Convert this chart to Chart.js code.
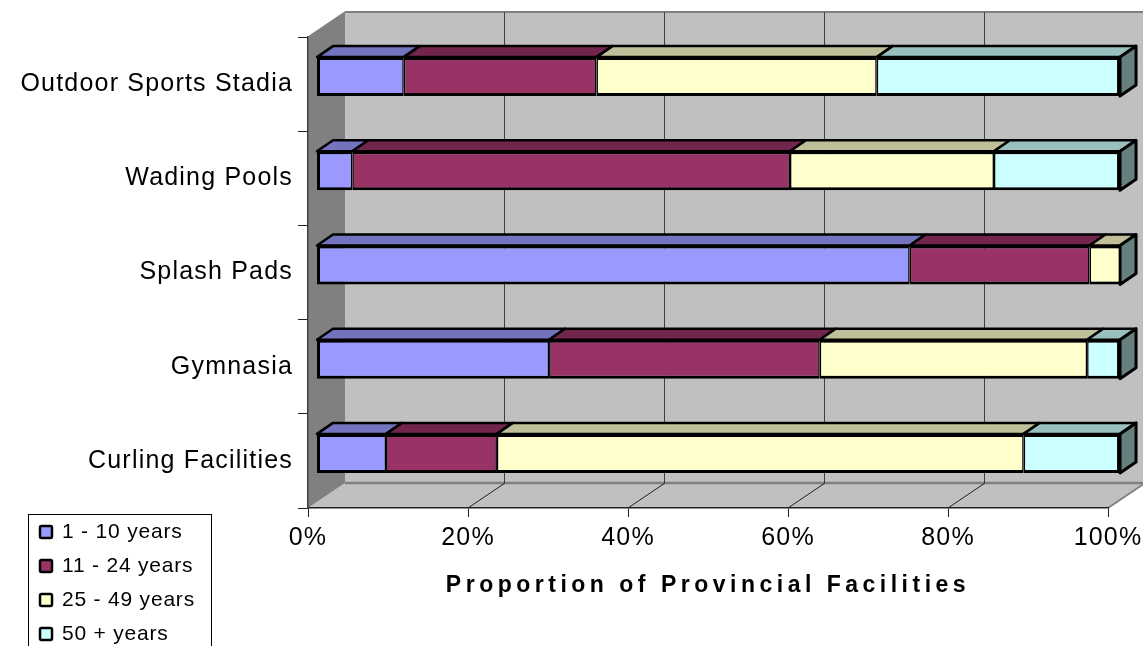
<!DOCTYPE html>
<html>
<head>
<meta charset="utf-8">
<style>
  html, body { margin: 0; padding: 0; background: #fff; overflow: hidden; }
  canvas { display: block; }
</style>
<script src="https://cdn.jsdelivr.net/npm/chart.js@4/dist/chart.umd.min.js"></script>
</head>
<body>
<canvas id="myChart" width="1143" height="646"></canvas>
<script>
var categories = ["Outdoor Sports Stadia", "Wading Pools", "Splash Pads", "Gymnasia", "Curling Facilities"];
var seriesNames = ["1 - 10 years", "11 - 24 years", "25 - 49 years", "50 + years"];
var years1to10 = [10.8, 4.4, 73.8, 28.9, 8.6];
var years11to24 = [24.0, 54.5, 22.4, 33.7, 13.8];
var years25to49 = [34.9, 25.4, 3.8, 33.3, 65.6];
var years50plus = [30.3, 15.7, 0, 4.1, 12.0];
var seriesColors = ["#9999FF", "#993366", "#FFFFCC", "#CCFFFF"];
var topColors = ["#7373BF", "#73264D", "#BFBF99", "#99BFBF"];
var sideColors = ["#4D4D80", "#4D1A33", "#808066", "#668080"];
var axisTitle = "Proportion of Provincial Facilities";

var FONT = "'Liberation Sans', Arial, sans-serif";

// depth of the box and of the bars, in px
var boxDX = 37, boxDY = 25;
var barDX = 16, barDY = 11;
var barShiftY = -7.5;

function poly(ctx, pts, fill, stroke, lw) {
	ctx.beginPath();
	ctx.moveTo(pts[0][0], pts[0][1]);
	for (var i = 1; i < pts.length; i++) ctx.lineTo(pts[i][0], pts[i][1]);
	ctx.closePath();
	if (fill) { ctx.fillStyle = fill; ctx.fill(); }
	if (stroke) { ctx.strokeStyle = stroke; ctx.lineWidth = lw; ctx.lineJoin = "round"; ctx.stroke(); }
}

function line(ctx, x1, y1, x2, y2, color, lw) {
	ctx.beginPath();
	ctx.moveTo(x1, y1);
	ctx.lineTo(x2, y2);
	ctx.strokeStyle = color;
	ctx.lineWidth = lw;
	ctx.stroke();
}

// walls and floor behind the bars
var boxPlugin = {
	id: "box",
	beforeDraw: function(chart) {
		var ctx = chart.ctx, a = chart.chartArea, xs = chart.scales.x;
		var l = a.left, r = a.right, t = a.top, b = a.bottom;
		ctx.save();
		ctx.fillStyle = "#fff";
		ctx.fillRect(0, 0, chart.width, chart.height);
		poly(ctx, [[l + boxDX, t - boxDY], [r + boxDX, t - boxDY], [r + boxDX, b - boxDY], [l + boxDX, b - boxDY]], "#C0C0C0");
		poly(ctx, [[l, b], [r, b], [r + boxDX, b - boxDY], [l + boxDX, b - boxDY]], "#C0C0C0");
		poly(ctx, [[l, t], [l + boxDX, t - boxDY], [l + boxDX, b - boxDY], [l, b]], "#808080");
		line(ctx, l, t, l + boxDX, t - boxDY, "#808080", 1.5);
		line(ctx, l + boxDX, t - boxDY, r + boxDX, t - boxDY, "#808080", 2);
		line(ctx, l + boxDX, b - boxDY, r + boxDX, b - boxDY, "#808080", 2.5);
		line(ctx, r, b, r + boxDX, b - boxDY, "#808080", 2);
		xs.ticks.forEach(function(tick) {
			if (tick.value === 0 || tick.value === 100) return;
			var x = xs.getPixelForValue(tick.value);
			line(ctx, x + boxDX - 0.5, t - boxDY, x + boxDX - 0.5, b - boxDY, "#404040", 1);
			line(ctx, x, b, x + boxDX, b - boxDY, "#202020", 1);
		});
		ctx.restore();
		// the library's tick labels pick this up
		ctx.letterSpacing = "1.2px";
	},
	beforeDatasetsDraw: function(chart) {
		var ctx = chart.ctx;
		ctx.save();
		ctx.translate(0, barShiftY);
		// top and end faces go under the front faces
		chart.data.datasets.forEach(function(ds, di) {
			chart.getDatasetMeta(di).data.forEach(function(bar, i) {
				var p = bar.getProps(["x", "y", "base", "height"], true);
				var top = p.y - p.height / 2, bottom = p.y + p.height / 2;
				if (p.x - p.base > 0.1) {
					poly(ctx, [[p.base, top], [p.base + barDX, top - barDY], [p.x + barDX, top - barDY], [p.x, top]], topColors[di], "#000", 2.5);
				}
				if (di === chart.data.datasets.length - 1) {
					poly(ctx, [[p.x, top], [p.x + barDX, top - barDY], [p.x + barDX, bottom - barDY], [p.x, bottom]], sideColors[di], "#000", 3);
				}
			});
		});
	},
	afterDatasetsDraw: function(chart) {
		chart.ctx.restore();
	},
	afterDraw: function(chart) {
		var ctx = chart.ctx;
		ctx.save();
		// axis title, spaced out like the original
		ctx.font = "bold 23px " + FONT;
		ctx.letterSpacing = "4.5px";
		ctx.fillStyle = "#000";
		ctx.textAlign = "center";
		ctx.textBaseline = "middle";
		ctx.fillText(axisTitle, 708, 586);
		// legend box runs off the bottom of the picture
		ctx.strokeStyle = "#000";
		ctx.lineWidth = 1;
		ctx.strokeRect(28.5, 514.5, 183, 140);
		ctx.font = "21px " + FONT;
		ctx.letterSpacing = "0.8px";
		ctx.textAlign = "left";
		chart.data.datasets.forEach(function(ds, di) {
			var y = 532 + di * 34;
			ctx.beginPath();
			ctx.roundRect(40, y - 6, 12, 12, 1.5);
			ctx.fillStyle = ds.backgroundColor;
			ctx.fill();
			ctx.lineWidth = 2.5;
			ctx.stroke();
			ctx.fillStyle = "#000";
			ctx.fillText(ds.label, 62, y);
		});
		ctx.restore();
	}
};

function seam(context) {
	var last = context.chart.data.datasets.length - 1;
	return {
		top: 3,
		bottom: 3,
		left: context.datasetIndex === 0 ? 3 : 1.5,
		right: context.datasetIndex === last ? 3 : 1.5
	};
}

var values = [years1to10, years11to24, years25to49, years50plus];
var datasets = seriesNames.map(function(name, i) {
	return {
		label: name,
		data: values[i],
		backgroundColor: seriesColors[i],
		borderColor: "#000",
		borderWidth: seam,
		borderSkipped: false,
		inflateAmount: 0,
		barThickness: 39,
		clip: false,
		xAxisID: "x2"
	};
});

new Chart(document.getElementById("myChart"), {
	type: "bar",
	data: { labels: categories, datasets: datasets },
	options: {
		indexAxis: "y",
		responsive: false,
		animation: false,
		layout: { padding: { top: 37, right: 35, bottom: 0, left: 0 } },
		plugins: { legend: { display: false }, title: { display: false }, tooltip: { enabled: false } },
		scales: {
			x: {
				type: "linear",
				min: 0,
				max: 100,
				afterFit: function(scale) {
					scale.height = 138;
					scale.paddingLeft = 0;
					scale.paddingRight = 0;
				},
				ticks: {
					stepSize: 20,
					maxRotation: 0,
					padding: 6,
					color: "#000",
					font: { family: FONT, size: 25 },
					callback: function(v) { return v + "%"; }
				},
				grid: { drawOnChartArea: false, tickLength: 9, color: "#202020" },
				border: { color: "#202020", width: 1.5 }
			},
			// the bars sit a little inside the box, so their 0-100 runs slightly offset from the axis
			x2: {
				type: "linear",
				display: false,
				stacked: true,
				min: -1.12,
				max: 98.5
			},
			y: {
				stacked: true,
				afterFit: function(scale) { scale.width = 308; },
				ticks: {
					padding: 5,
					color: "#000",
					crossAlign: "near",
					font: { family: FONT, size: 25 }
				},
				grid: { drawOnChartArea: false, tickLength: 10, color: "#202020" },
				border: { color: "#404040", width: 1.5 }
			}
		}
	},
	plugins: [boxPlugin]
});
</script>
</body>
</html>
